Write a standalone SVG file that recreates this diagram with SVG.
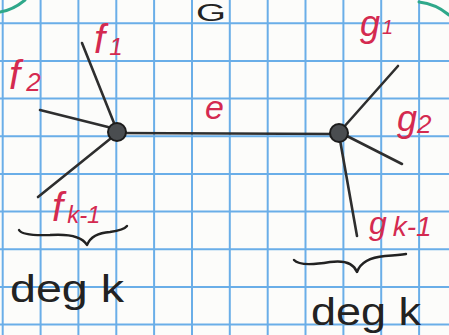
<svg xmlns="http://www.w3.org/2000/svg" width="449" height="335" viewBox="0 0 449 335">
<style>
.grid line{stroke:#6aaee8;stroke-width:2}
.edge{stroke:#2e2e2e;stroke-width:2.6;stroke-linecap:round;fill:none}
.node{fill:#4a4d50;stroke:#1c1c1c;stroke-width:2}
.lbl{font-family:"Liberation Sans",Arial,sans-serif;font-style:italic;fill:#d42a50}
.blk{font-family:"Liberation Sans",Arial,sans-serif;fill:#222}
.brace{stroke:#222;stroke-width:2.4;fill:none;stroke-linecap:round;stroke-linejoin:round}
.green{stroke:#2fa88a;stroke-width:3;fill:none;stroke-linecap:round}
</style>
<rect width="449" height="335" fill="#fcfcfa"/>
<g class="grid">
<line x1="2.7" y1="0" x2="2.7" y2="335"/>
<line x1="40.6" y1="0" x2="40.6" y2="335"/>
<line x1="78.4" y1="0" x2="78.4" y2="335"/>
<line x1="116.3" y1="0" x2="116.3" y2="335"/>
<line x1="154.1" y1="0" x2="154.1" y2="335"/>
<line x1="192" y1="0" x2="192" y2="335"/>
<line x1="229.8" y1="0" x2="229.8" y2="335"/>
<line x1="267.7" y1="0" x2="267.7" y2="335"/>
<line x1="305.5" y1="0" x2="305.5" y2="335"/>
<line x1="343.4" y1="0" x2="343.4" y2="335"/>
<line x1="381.2" y1="0" x2="381.2" y2="335"/>
<line x1="419.1" y1="0" x2="419.1" y2="335"/>
<line x1="0" y1="23.3" x2="449" y2="23.3"/>
<line x1="0" y1="61" x2="449" y2="61"/>
<line x1="0" y1="98.6" x2="449" y2="98.6"/>
<line x1="0" y1="136.3" x2="449" y2="136.3"/>
<line x1="0" y1="173.9" x2="449" y2="173.9"/>
<line x1="0" y1="211.6" x2="449" y2="211.6"/>
<line x1="0" y1="249.2" x2="449" y2="249.2"/>
<line x1="0" y1="286.9" x2="449" y2="286.9"/>
<line x1="0" y1="324.5" x2="449" y2="324.5"/>
</g>
<path class="green" d="M0,12 Q13,10 25,0"/>
<path class="green" d="M419,2 Q436,4 449,15"/>
<text class="blk" x="196" y="21" font-size="23" textLength="30" lengthAdjust="spacingAndGlyphs">G</text>
<g id="connectors">
<line class="edge" x1="117" y1="133" x2="339" y2="134"/>
<line class="edge" x1="82" y1="43" x2="116" y2="128"/>
<line class="edge" x1="40" y1="110" x2="108" y2="127"/>
<line class="edge" x1="38" y1="197" x2="110" y2="139"/>
<line class="edge" x1="398" y1="66" x2="343" y2="128"/>
<line class="edge" x1="402" y1="164" x2="345" y2="135"/>
<line class="edge" x1="357" y1="236" x2="340" y2="140"/>
</g>
<g id="u"><circle class="node" cx="117" cy="132" r="9"/></g>
<g id="v"><circle class="node" cx="339" cy="133" r="9"/></g>
<text class="lbl" x="205" y="119" font-size="34">e</text>
<text class="lbl" x="94" y="53" font-size="40">f<tspan font-size="24" dx="4" dy="2">1</tspan></text>
<text class="lbl" x="9" y="89" font-size="40">f<tspan font-size="26" dx="6" dy="2">2</tspan></text>
<text class="lbl" x="52" y="221" font-size="40">f<tspan font-size="24" dx="4" dy="2">k-1</tspan></text>
<text class="lbl" x="360" y="36" font-size="36">g<tspan font-size="20" dx="2" dy="-2">1</tspan></text>
<text class="lbl" x="397" y="131" font-size="36">g<tspan font-size="26" dx="0" dy="2">2</tspan></text>
<text class="lbl" x="369" y="234" font-size="32">g<tspan font-size="28" dx="6" dy="2">k-1</tspan></text>
<path class="brace" d="M19,230 Q22,236 50,235 Q80,233 87,245 Q92,233 110,232 Q124,230 127,226"/>
<path class="brace" d="M294,260 Q300,267 330,262 Q352,259 357,272 Q362,258 385,256 Q400,255 406,254"/>
<text class="blk" x="10" y="302" font-size="38" textLength="114" lengthAdjust="spacingAndGlyphs">deg k</text>
<text class="blk" x="311" y="325" font-size="38" textLength="110" lengthAdjust="spacingAndGlyphs">deg k</text>
</svg>
